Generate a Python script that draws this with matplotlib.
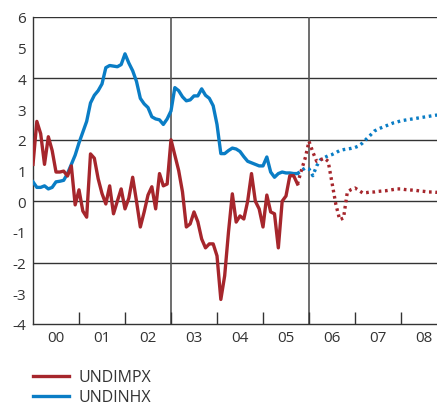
import numpy as np
import matplotlib
matplotlib.use("Agg")
import matplotlib.pyplot as plt
from matplotlib.lines import Line2D
from matplotlib.ticker import FixedLocator, NullFormatter

plt.rcParams["font.family"] = ["Open Sans", "DejaVu Sans"]
plt.rcParams["axes.unicode_minus"] = False

# Monthly observations starting January 2000
start_year = 2000
undimpx_actual = [
    1.2, 2.6, 2.2, 1.2, 2.1, 1.65, 0.95, 0.95, 0.98, 0.82,
    1.15, -0.12, 0.37, -0.32, -0.52, 1.54, 1.4, 0.73, 0.25, -0.09,
    0.5, -0.41, 0.0, 0.4, -0.25, 0.1, 0.78, 0.0, -0.84, -0.35,
    0.2, 0.47, -0.25, 0.9, 0.5, 0.56, 2.0, 1.5, 1.0, 0.3,
    -0.84, -0.74, -0.35, -0.67, -1.23, -1.52, -1.39, -1.39, -1.78, -3.2,
    -2.43, -1.0, 0.24, -0.68, -0.48, -0.58, 0.0, 0.9, 0.0, -0.25,
    -0.84, 0.2, -0.35, -0.41, -1.52, 0.0, 0.17, 0.83, 0.83, 0.56,
]
undinhx_actual = [
    0.63, 0.45, 0.45, 0.5, 0.4, 0.45, 0.63, 0.65, 0.68, 0.9,
    1.2, 1.5, 1.9, 2.25, 2.6, 3.2, 3.45, 3.6, 3.82, 4.35,
    4.42, 4.4, 4.38, 4.45, 4.8, 4.5, 4.25, 3.9, 3.35, 3.17,
    3.05, 2.75, 2.68, 2.65, 2.5, 2.68, 2.94, 3.7, 3.6, 3.4,
    3.27, 3.3, 3.43, 3.43, 3.66, 3.45, 3.35, 3.11, 2.5, 1.55,
    1.55, 1.65, 1.73, 1.7, 1.62, 1.45, 1.3, 1.25, 1.2, 1.15,
    1.15, 1.44, 0.95, 0.78, 0.9, 0.95, 0.92, 0.92, 0.9, 0.9,
]

# Projections, starting from the last observed month
undimpx_proj = [
    0.56, 1.0, 1.4, 1.95, 1.6, 1.3, 1.35, 1.4, 1.3, 0.6,
    -0.1, -0.6, -0.55, 0.3, 0.38, 0.43, 0.35, 0.27, 0.28, 0.3,
    0.3, 0.32, 0.33, 0.34, 0.36, 0.38, 0.4, 0.4, 0.38, 0.37,
    0.36, 0.35, 0.33, 0.32, 0.3, 0.3, 0.29, 0.29,
]
undinhx_proj = [
    0.9, 1.0, 1.08, 1.05, 0.83, 1.15, 1.35, 1.42, 1.48, 1.52,
    1.58, 1.65, 1.68, 1.7, 1.72, 1.75, 1.8, 1.9, 2.03, 2.15,
    2.28, 2.35, 2.4, 2.45, 2.5, 2.55, 2.58, 2.62, 2.64, 2.66,
    2.68, 2.7, 2.72, 2.74, 2.76, 2.78, 2.8, 2.81,
]

year_labels = ["00", "01", "02", "03", "04", "05", "06", "07", "08"]
series_names = ["UNDIMPX", "UNDINHX"]

red = "#A6262C"
blue = "#0A7DC5"

n_act = len(undimpx_actual)
t_act = start_year + np.arange(n_act) / 12
t_proj = start_year + (n_act - 1 + np.arange(len(undimpx_proj))) / 12

fig = plt.figure(figsize=(4.37, 4.06), dpi=100)
ax = fig.add_axes([33 / 437, 1 - 325 / 406, 414 / 437, (325 - 18) / 406])

lw = 2.4
dots = (0, (0.8, 1.1))
ax.plot(t_act, undimpx_actual, color=red, lw=lw, solid_joinstyle="round", zorder=4)
ax.plot(t_act, undinhx_actual, color=blue, lw=lw, solid_joinstyle="round", zorder=3)
ax.plot(t_proj, undimpx_proj, color=red, lw=lw, linestyle=dots, zorder=4)
ax.plot(t_proj, undinhx_proj, color=blue, lw=lw, linestyle=dots, zorder=3)

ax.set_xlim(2000, 2009)
ax.set_ylim(-4, 6)

# Horizontal grid at even values, short ticks at odd values
for y in range(-2, 7, 2):
    ax.axhline(y, color="#333333", lw=1.0, zorder=1)
for xv in (2003, 2006):
    ax.axvline(xv, color="#555555", lw=1.2, zorder=1)

ax.yaxis.set_major_locator(FixedLocator(range(-4, 7)))
ax.set_yticklabels([str(v) for v in range(-4, 7)])
ax.yaxis.set_minor_locator(FixedLocator(range(-3, 6, 2)))
ax.tick_params(axis="y", which="major", length=0, pad=5, labelsize=11,
               labelcolor="#333333")
ax.tick_params(axis="y", which="minor", length=10, width=1.2, direction="in",
               color="#888888", right=True, left=True)

ax.xaxis.set_major_locator(FixedLocator(np.arange(2001, 2009)))
ax.xaxis.set_major_formatter(NullFormatter())
ax.xaxis.set_minor_locator(FixedLocator(np.arange(2000.5, 2009, 1.0)))
ax.set_xticklabels(year_labels, minor=True)
ax.tick_params(axis="x", which="major", length=9, width=1.0, direction="in",
               color="#333333")
ax.tick_params(axis="x", which="minor", length=0, pad=4, labelsize=11,
               labelcolor="#333333")

for side in ("left", "bottom"):
    ax.spines[side].set_color("#333333")
    ax.spines[side].set_linewidth(1.0)
ax.spines["top"].set_visible(False)
ax.spines["right"].set_visible(False)

handles = [Line2D([], [], color=red, lw=2.4), Line2D([], [], color=blue, lw=2.4)]
fig.legend(handles, series_names, loc="upper left",
           bbox_to_anchor=(27 / 437, 1 - 364 / 406), frameon=False,
           fontsize=11.5, handlelength=2.25, handletextpad=0.6,
           labelspacing=0.25, labelcolor="#333333", borderaxespad=0)

fig.savefig("out.png", dpi=100)
